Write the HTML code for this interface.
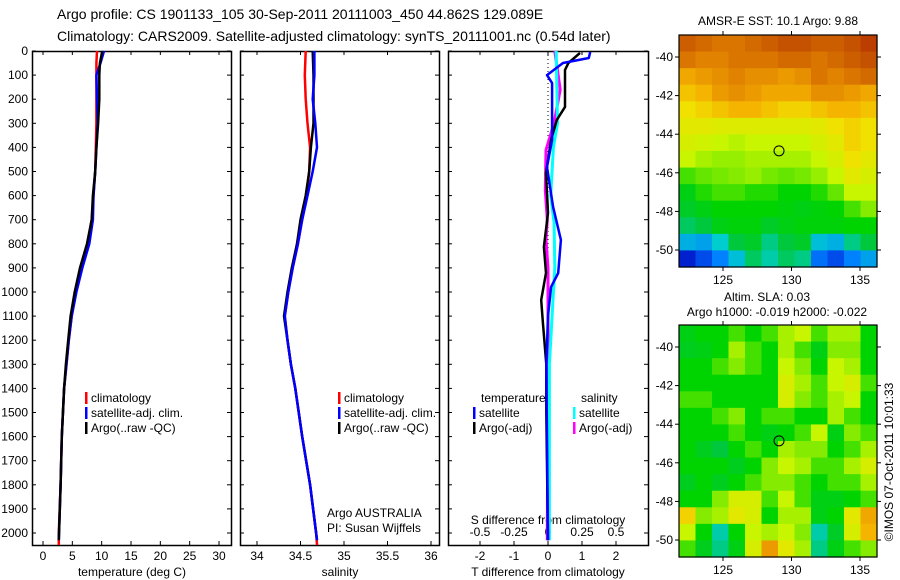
<!DOCTYPE html>
<html><head><meta charset="utf-8"><style>
html,body{margin:0;padding:0;background:#fff;}
svg{display:block;font-family:"Liberation Sans",sans-serif;}
</style></head><body>
<svg id="c" width="900" height="580" viewBox="0 0 900 580" xmlns="http://www.w3.org/2000/svg">
<text x="57" y="19" font-size="14">Argo profile: CS 1901133_105 30-Sep-2011 20111003_450 44.862S 129.089E</text>
<text x="57" y="41" font-size="14">Climatology: CARS2009. Satellite-adjusted climatology: synTS_20111001.nc (0.54d later)</text>
<g id="g"></g>
</svg>
<script>
// ---- data ----
const depthTicks=[0,100,200,300,400,500,600,700,800,900,1000,1100,1200,1300,1400,1500,1600,1700,1800,1900,2000];
const tempTicks=[0,5,10,15,20,25,30];
const salTicks=[34,34.5,35,35.5,36];
const tdiffTicks=[-2,-1,0,1,2];
const sdiffTicks=[-0.5,-0.25,0,0.25,0.5];
const lonTicks=[125,130,135];
const latTicks=[-40,-42,-44,-46,-48,-50];

const tClimDepth=[0,50,100,200,300,400,500,600,700,800,900,1000,1100,1200,1300,1400,1600,1800,2000,2050];
const tClimVal=[9.2,9.1,9.1,9.1,9.1,9.0,8.9,8.6,8.3,7.6,6.4,5.6,4.9,4.4,4.0,3.6,3.2,3.0,2.7,2.7];
const tSatDepth=[0,50,100,200,300,400,500,600,700,800,900,1000,1100,1200,1300,1400,1600,1800,2030];
const tSatVal=[10.4,9.8,9.1,9.2,9.3,9.1,8.9,8.6,8.5,7.9,6.7,5.7,4.9,4.4,4.0,3.6,3.2,3.0,2.7];
const tArgoDepth=[0,50,100,200,300,400,500,600,700,800,900,1000,1100,1200,1300,1400,1600,1800,2030];
const tArgoVal=[10.1,9.7,9.6,9.6,9.4,9.1,8.9,8.5,8.3,7.5,6.3,5.4,4.7,4.3,3.9,3.6,3.2,3.0,2.7];

const sClimDepth=[0,100,200,300,400,500,600,700,800,900,1000,1100,1200,1300,1400,1600,1800,2000,2050];
const sClimVal=[34.56,34.55,34.56,34.58,34.61,34.60,34.57,34.52,34.47,34.41,34.36,34.32,34.35,34.39,34.44,34.52,34.61,34.68,34.69];
const sSatDepth=[0,100,200,300,400,500,600,700,800,900,1000,1100,1200,1300,1400,1600,1800,2030];
const sSatVal=[34.66,34.66,34.64,34.67,34.69,34.64,34.58,34.52,34.47,34.41,34.36,34.32,34.35,34.39,34.44,34.52,34.61,34.69];
const sArgoDepth=[0,100,200,300,400,500,600,700,800,900,1000,1100,1200,1300,1400,1600,1800,2030];
const sArgoVal=[34.64,34.65,34.65,34.65,34.62,34.60,34.56,34.50,34.46,34.40,34.35,34.31,34.35,34.39,34.44,34.52,34.61,34.69];

const dTSatDepth=[4,29,50,100,133,369,481,647,784,921,979,1100,1300,1600,2030];
const dTSatVal=[1.24,1.2,0.44,-0.03,0.12,0.12,-0.03,0.15,0.38,0.3,0.09,0.0,-0.05,-0.03,0];
const dTArgoDepth=[8,50,79,232,286,369,506,672,813,921,1033,1128,1300,1500,2030];
const dTArgoVal=[0.94,0.6,0.5,0.5,0.26,0.09,-0.06,0,-0.12,-0.06,-0.2,-0.15,-0.05,-0.05,0];
const dSSatDepth=[0,300,400,600,714,900,1100,1300,2030];
const dSSatVal=[0.06,0.07,0.04,0.02,0.045,0.05,0.03,0.01,0.01];
const dSArgoDepth=[0,160,299,411,577,700,784,900,1200,2030];
const dSArgoVal=[0.05,0.09,0.045,-0.015,-0.02,-0.005,-0.015,0,0,-0.005];

const sstGrid=[
[84,82,80,80,82,84,86,86,84,84,86,90],
[80,78,78,80,80,80,82,82,80,82,84,86],
[72,74,76,78,76,76,74,76,80,78,80,82],
[68,70,74,76,74,72,72,72,76,76,74,72],
[64,66,68,70,70,68,66,66,68,70,70,68],
[62,62,61,61,61,61,61,61,62,64,66,64],
[60,59,58,57,58,58,58,58,60,62,66,64],
[58,56,55,55,56,56,56,56,58,60,64,62],
[50,52,53,54,55,53,52,53,55,58,62,60],
[44,48,50,50,48,48,46,46,48,52,58,58],
[42,44,46,46,46,46,45,44,45,46,50,54],
[38,40,44,45,45,42,44,45,45,45,46,46],
[28,26,32,40,42,36,40,42,30,28,36,40],
[10,16,22,30,38,34,38,36,20,16,22,26]];
const slaGrid=[
[44,46,46,50,46,50,56,58,50,56,56,46],
[43,44,46,56,50,46,56,50,44,54,54,46],
[46,46,50,54,50,46,58,54,46,58,56,46],
[46,46,46,46,46,46,60,56,50,58,60,50],
[50,50,46,46,46,46,60,54,50,56,58,46],
[46,46,50,54,46,50,50,46,46,56,50,46],
[46,46,46,50,46,44,46,50,58,44,54,50],
[46,43,40,46,50,46,56,54,54,46,50,56],
[46,46,46,43,46,54,58,56,50,50,56,60],
[43,46,43,46,50,54,54,50,46,50,50,56],
[46,46,54,60,60,50,58,50,44,44,46,50],
[66,54,56,62,60,46,56,56,44,46,62,72],
[58,46,34,46,58,56,58,54,34,42,60,70],
[50,43,36,44,60,74,62,56,36,44,50,54]];
const argoLon=129.089, argoLat=-44.862;

// ---- drawing ----
const NS="http://www.w3.org/2000/svg";
const G=document.getElementById('g');
function el(tag,attrs,parent){const e=document.createElementNS(NS,tag);for(const k in attrs)e.setAttribute(k,attrs[k]);(parent||G).appendChild(e);return e;}
const yTop=51, yPer=0.241, yBot=545;
const yD=d=>yTop+d*yPer;
function lin(v0,p0,v1,p1){return v=>p0+(v-v0)*(p1-p0)/(v1-v0);}
const xT=lin(0,43,30,219), xS=lin(34,257,36,431), xDT=lin(-2,480,2,616), xDS=lin(-0.5,480,0.5,616);
const panels=[[32,231],[240,439],[448,648]];
panels.forEach((p,i)=>{
  const r=el('rect',{x:p[0]+.5,y:yTop+.5,width:p[1]-p[0],height:yBot-yTop,fill:'none',stroke:'#000','stroke-width':1.5});
  
  
});
depthTicks.forEach(d=>{
  const y=yD(d);
  const t=el('text',{x:28,y:y+4,'font-size':12,'text-anchor':'end'});t.textContent=d;
  
  
  panels.forEach(p=>{el('line',{x1:p[0],x2:p[0]+4,y1:y,y2:y,stroke:'#000'});el('line',{x1:p[1]-4,x2:p[1],y1:y,y2:y,stroke:'#000'});});
});
function xticks(ticks,fx,p,fmt){ticks.forEach(v=>{const x=fx(v);
  el('line',{x1:x,x2:x,y1:yBot-4,y2:yBot,stroke:'#000'});el('line',{x1:x,x2:x,y1:yTop,y2:yTop+4,stroke:'#000'});
  const t=el('text',{x:x,y:yBot+15,'font-size':12,'text-anchor':'middle'});t.textContent=fmt?fmt(v):v;
  
  
});}
xticks(tempTicks,xT,panels[0]);xticks(salTicks,xS,panels[1]);xticks(tdiffTicks,xDT,panels[2]);
sdiffTicks.forEach(v=>{const t=el('text',{x:xDS(v),y:536,'font-size':12,'text-anchor':'middle'});t.textContent=v;
  
  });
[[132,'temperature (deg C)','x-axis-title-temperature'],[340,'salinity','x-axis-title-salinity'],[548,'T difference from climatology','x-axis-title-t-diff']].forEach(a=>{
  const t=el('text',{x:a[0],y:576,'font-size':12,'text-anchor':'middle'});t.textContent=a[1];
  
  });
const st=el('text',{x:548,y:524,'font-size':12,'text-anchor':'middle'});st.textContent='S difference from climatology';


const zl=el('line',{x1:548,x2:548,y1:yTop,y2:yBot,stroke:'#000','stroke-dasharray':'1,3'});


function series(ds,vs,fx,color,name,w){
  const pts=ds.map((d,i)=>fx(vs[i]).toFixed(1)+','+yD(d).toFixed(1)).join(' ');
  const pl=el('polyline',{points:pts,fill:'none',stroke:color,'stroke-width':w||2.5,'stroke-linejoin':'round'});
  
  
}
series(tClimDepth,tClimVal,xT,'#f00','temp-climatology-line');
series(tSatDepth,tSatVal,xT,'#00f','temp-satellite-line');
series(tArgoDepth,tArgoVal,xT,'#000','temp-argo-line');
series(sClimDepth,sClimVal,xS,'#f00','sal-climatology-line');
series(sArgoDepth,sArgoVal,xS,'#000','sal-argo-line');
series(sSatDepth,sSatVal,xS,'#00f','sal-satellite-line');
series(dSArgoDepth,dSArgoVal,xDS,'#f0f','sdiff-argo-line',3);
series(dSSatDepth,dSSatVal,xDS,'#0ff','sdiff-satellite-line',3);
series(dTArgoDepth,dTArgoVal,xDT,'#000','tdiff-argo-line');
series(dTSatDepth,dTSatVal,xDT,'#00f','tdiff-satellite-line');
function legend(x,y,color,label,name){
  const m=el('rect',{x:x,y:y-10,width:2.5,height:12,fill:color});
  
  
  const t=el('text',{x:x+6,y:y,'font-size':12});t.textContent=label;
  
  
}
[[85],[338]].forEach((p,i)=>{
  legend(p[0],402,'#f00','climatology','legend-climatology');
  legend(p[0],417,'#00f','satellite-adj. clim.','legend-satellite-adj');
  legend(p[0],432,'#000','Argo(..raw -QC)','legend-argo');
});
const lt=el('text',{x:481,y:402,'font-size':12});lt.textContent='temperature';


const ls=el('text',{x:581,y:402,'font-size':12});ls.textContent='salinity';


legend(473,417,'#00f','satellite','legend-t-satellite');
legend(473,432,'#000','Argo(-adj)','legend-t-argo');
legend(573,417,'#0ff','satellite','legend-s-satellite');
legend(573,432,'#f0f','Argo(-adj)','legend-s-argo');
const a1=el('text',{x:327,y:517,'font-size':12});a1.textContent='Argo AUSTRALIA';


const a2=el('text',{x:327,y:532,'font-size':12});a2.textContent='PI: Susan Wijffels';



// colormap
const cmStops=[[0,0,0,130],[.12,0,40,220],[.22,0,130,255],[.32,0,205,205],[.40,0,200,60],[.46,0,212,0],[.52,100,230,0],[.58,200,245,0],[.64,240,225,0],[.70,245,180,0],[.78,225,130,0],[.88,190,70,0],[1,170,20,0]];
function cmap(v){v=Math.max(0,Math.min(1,v));
  for(let i=1;i<cmStops.length;i++){const a=cmStops[i-1],b=cmStops[i];
    if(v<=b[0]){const f=(v-a[0])/(b[0]-a[0]);
      return 'rgb('+[1,2,3].map(k=>Math.round(a[k]+f*(b[k]-a[k]))).join(',')+')';}}
  return 'rgb(170,20,0)';}
const mx0=679,mx1=877;
const xLon=lin(125,723,135,860);
function map(grid,y0,y1,name){
  const yLat=lin(-40,y0+22,-50,y0+215);
  const rows=grid.length, cols=grid[0].length, cw=(mx1-mx0)/cols, ch=(y1-y0)/rows;
  grid.forEach((row,r)=>row.forEach((v,c)=>{
    const cell=el('rect',{x:mx0+c*cw,y:y0+r*ch,width:cw+0.6,height:ch+0.6,fill:cmap(v/100)});
    
    
  }));
  const f=el('rect',{x:mx0,y:y0,width:mx1-mx0,height:y1-y0,fill:'none',stroke:'#000','stroke-width':1.2});
  
  
  lonTicks.forEach(v=>{const x=xLon(v);
    el('line',{x1:x,x2:x,y1:y0-4,y2:y0,stroke:'#000'});el('line',{x1:x,x2:x,y1:y1,y2:y1+4,stroke:'#000'});
    const t=el('text',{x:x,y:y1+17,'font-size':12,'text-anchor':'middle'});t.textContent=v;
    
    });
  latTicks.forEach(v=>{const y=yLat(v);
    el('line',{x1:mx0-4,x2:mx0,y1:y,y2:y,stroke:'#000'});el('line',{x1:mx1,x2:mx1+4,y1:y,y2:y,stroke:'#000'});
    const t=el('text',{x:mx0-6,y:y+4,'font-size':12,'text-anchor':'end'});t.textContent=v;
    
    });
  const cc=el('circle',{cx:xLon(argoLon),cy:yLat(argoLat),r:5,fill:'none',stroke:'#000','stroke-width':1});
  
  
}
map(sstGrid,35,267,'sst-map');
map(slaGrid,325,557,'sla-map');
[[778,25,'AMSR-E SST: 10.1 Argo: 9.88','sst-map-title'],[767,301,'Altim. SLA: 0.03','sla-map-title1'],[777,316,'Argo h1000: -0.019 h2000: -0.022','sla-map-title2']].forEach(a=>{
  const t=el('text',{x:a[0],y:a[1],'font-size':12,'text-anchor':'middle'});t.textContent=a[2];
  
  });
const cp=el('text',{x:0,y:0,'font-size':12,'text-anchor':'middle',transform:'translate(893,462) rotate(-90)'});cp.textContent='©IMOS 07-Oct-2011 10:01:33';


</script>
</body></html>
